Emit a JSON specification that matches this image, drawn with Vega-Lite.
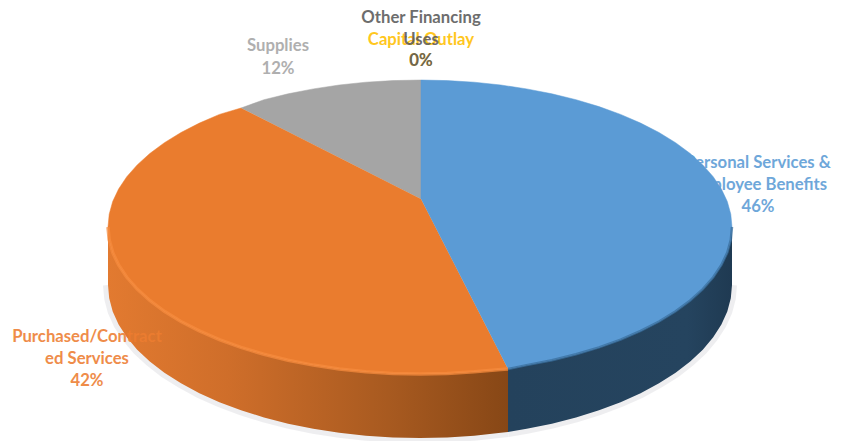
{"$schema":"https://vega.github.io/schema/vega-lite/v6.json","width":847,"height":441,"padding":0,"autosize":{"type":"none"},"background":"#ffffff","view":{"stroke":null},
"datasets":{
"blueTop":[{"i":0,"x":421,"y":199},{"i":1,"x":421,"y":80},{"i":2,"x":447.2,"y":80.6},{"i":3,"x":474.2,"y":82.2},{"i":4,"x":500.8,"y":85},{"i":5,"x":526.7,"y":88.9},{"i":6,"x":551.9,"y":93.8},{"i":7,"x":576,"y":99.7},{"i":8,"x":599,"y":106.6},{"i":9,"x":620.6,"y":114.4},{"i":10,"x":640.6,"y":123.1},{"i":11,"x":659,"y":132.5},{"i":12,"x":675.6,"y":142.7},{"i":13,"x":690.2,"y":153.5},{"i":14,"x":702.8,"y":164.9},{"i":15,"x":713.2,"y":176.7},{"i":16,"x":721.4,"y":189},{"i":17,"x":727.3,"y":201.5},{"i":18,"x":730.8,"y":214.2},{"i":19,"x":732,"y":227},{"i":20,"x":730.8,"y":239.8},{"i":21,"x":727.3,"y":252.5},{"i":22,"x":721.4,"y":265},{"i":23,"x":713.2,"y":277.3},{"i":24,"x":702.8,"y":289.1},{"i":25,"x":690.2,"y":300.5},{"i":26,"x":675.6,"y":311.3},{"i":27,"x":659,"y":321.5},{"i":28,"x":640.6,"y":330.9},{"i":29,"x":620.6,"y":339.6},{"i":30,"x":599,"y":347.4},{"i":31,"x":576,"y":354.3},{"i":32,"x":551.9,"y":360.2},{"i":33,"x":526.7,"y":365.1},{"i":34,"x":508,"y":369}],
"orangeTop":[{"i":0,"x":421,"y":199},{"i":1,"x":508,"y":369},{"i":2,"x":500.8,"y":369.5},{"i":3,"x":474.2,"y":371.8},{"i":4,"x":447.2,"y":373.4},{"i":5,"x":420,"y":374},{"i":6,"x":392.8,"y":373.4},{"i":7,"x":365.8,"y":371.8},{"i":8,"x":339.2,"y":369},{"i":9,"x":313.3,"y":365.1},{"i":10,"x":288.1,"y":360.2},{"i":11,"x":264,"y":354.3},{"i":12,"x":241,"y":347.4},{"i":13,"x":219.4,"y":339.6},{"i":14,"x":199.4,"y":330.9},{"i":15,"x":181,"y":321.5},{"i":16,"x":164.4,"y":311.3},{"i":17,"x":149.8,"y":300.5},{"i":18,"x":137.2,"y":289.1},{"i":19,"x":126.8,"y":277.3},{"i":20,"x":118.6,"y":265},{"i":21,"x":112.7,"y":252.5},{"i":22,"x":109.2,"y":239.8},{"i":23,"x":108,"y":227},{"i":24,"x":109.2,"y":214.2},{"i":25,"x":112.7,"y":201.5},{"i":26,"x":118.6,"y":189},{"i":27,"x":126.8,"y":176.7},{"i":28,"x":137.2,"y":164.9},{"i":29,"x":149.8,"y":153.5},{"i":30,"x":164.4,"y":142.7},{"i":31,"x":181,"y":132.5},{"i":32,"x":199.4,"y":123.1},{"i":33,"x":219.4,"y":114.4},{"i":34,"x":241,"y":108}],
"grayTop":[{"i":0,"x":421,"y":199},{"i":1,"x":241,"y":108},{"i":2,"x":264,"y":99.7},{"i":3,"x":288.1,"y":93.8},{"i":4,"x":313.3,"y":88.9},{"i":5,"x":339.2,"y":85},{"i":6,"x":365.8,"y":82.2},{"i":7,"x":392.8,"y":80.6},{"i":8,"x":421,"y":80}],
"orangeWall":[{"x":108,"y":227,"y2":285},{"x":109.2,"y":239.8,"y2":298.3},{"x":112.7,"y":252.5,"y2":311.6},{"x":118.6,"y":265,"y2":324.6},{"x":126.8,"y":277.3,"y2":337.3},{"x":137.2,"y":289.1,"y2":349.7},{"x":149.8,"y":300.5,"y2":361.5},{"x":164.4,"y":311.3,"y2":372.8},{"x":181,"y":321.5,"y2":383.3},{"x":199.4,"y":330.9,"y2":393.2},{"x":219.4,"y":339.6,"y2":402.2},{"x":241,"y":347.4,"y2":410.3},{"x":264,"y":354.3,"y2":417.5},{"x":288.1,"y":360.2,"y2":423.7},{"x":313.3,"y":365.1,"y2":428.8},{"x":339.2,"y":369,"y2":432.8},{"x":365.8,"y":371.8,"y2":435.7},{"x":392.8,"y":373.4,"y2":437.4},{"x":420,"y":374,"y2":438},{"x":447.2,"y":373.4,"y2":437.4},{"x":474.2,"y":371.8,"y2":435.7},{"x":500.8,"y":369.5,"y2":432.8},{"x":508,"y":369,"y2":432}],
"blueWall":[{"x":508,"y":369,"y2":432},{"x":526.7,"y":365.1,"y2":428.8},{"x":551.9,"y":360.2,"y2":423.7},{"x":576,"y":354.3,"y2":417.5},{"x":599,"y":347.4,"y2":410.3},{"x":620.6,"y":339.6,"y2":402.2},{"x":640.6,"y":330.9,"y2":393.2},{"x":659,"y":321.5,"y2":383.3},{"x":675.6,"y":311.3,"y2":372.8},{"x":690.2,"y":300.5,"y2":361.5},{"x":702.8,"y":289.1,"y2":349.7},{"x":713.2,"y":277.3,"y2":337.3},{"x":721.4,"y":265,"y2":324.6},{"x":727.3,"y":252.5,"y2":311.6},{"x":730.8,"y":239.8,"y2":298.3},{"x":732,"y":227,"y2":285}],
"labels":[
{"category":"Supplies","text":"Supplies","share":12,"x":278,"y":46},{"category":"Supplies","text":"12%","share":12,"x":278,"y":69},
{"category":"Capital Outlay","text":"Capital Outlay","share":0,"x":421,"y":40},{"category":"Capital Outlay","text":"0%","share":0,"x":421,"y":61},
{"category":"Other Financing Uses","text":"Other Financing","share":0,"x":421,"y":18},{"category":"Other Financing Uses","text":"Uses","share":0,"x":421,"y":40},{"category":"Other Financing Uses","text":"0%","share":0,"x":421,"y":61},
{"category":"Personal Services & Employee Benefits","text":"Personal Services &","share":46,"x":758,"y":163},{"category":"Personal Services & Employee Benefits","text":"Employee Benefits","share":46,"x":758,"y":185},{"category":"Personal Services & Employee Benefits","text":"46%","share":46,"x":758,"y":207},
{"category":"Purchased/Contracted Services","text":"Purchased/Contract","share":42,"x":87,"y":337},{"category":"Purchased/Contracted Services","text":"ed Services","share":42,"x":87,"y":359},{"category":"Purchased/Contracted Services","text":"42%","share":42,"x":87,"y":381}]
},
"encoding":{"x":{"field":"x","type":"quantitative","scale":{"domain":[0,847],"nice":false,"zero":false},"axis":null},"y":{"field":"y","type":"quantitative","scale":{"domain":[441,0],"nice":false,"zero":false},"axis":null}},
"layer":[
{"data":{"name":"orangeWall"},"mark":{"type":"line","stroke":"#d5d5da","strokeWidth":10,"opacity":0.4},"encoding":{"y":{"field":"y2","type":"quantitative"}}},
{"data":{"name":"blueWall"},"mark":{"type":"line","stroke":"#d5d5da","strokeWidth":10,"opacity":0.4},"encoding":{"y":{"field":"y2","type":"quantitative"}}},
{"data":{"name":"orangeWall"},"mark":{"type":"area","fill":{"gradient":"linear","x1":0,"y1":0,"x2":1,"y2":0,"stops":[{"offset":0,"color":"#e27a30"},{"offset":0.3,"color":"#cf6e2a"},{"offset":0.7,"color":"#a85a20"},{"offset":1,"color":"#874716"}]}},"encoding":{"y2":{"field":"y2"}}},
{"data":{"name":"blueWall"},"mark":{"type":"area","fill":{"gradient":"linear","x1":0,"y1":0,"x2":1,"y2":0,"stops":[{"offset":0,"color":"#24425c"},{"offset":0.8,"color":"#25445f"},{"offset":1,"color":"#1f3a52"}]}},"encoding":{"y2":{"field":"y2"}}},
{"data":{"name":"grayTop"},"mark":{"type":"line","fill":"#a5a5a5","stroke":"#a5a5a5","strokeWidth":0.5},"encoding":{"order":{"field":"i","type":"quantitative"}}},
{"data":{"name":"orangeTop"},"mark":{"type":"line","fill":"#ea7c2e","stroke":"#ea7c2e","strokeWidth":0.5},"encoding":{"order":{"field":"i","type":"quantitative"}}},
{"data":{"name":"blueTop"},"mark":{"type":"line","fill":"#5b9bd5","stroke":"#5b9bd5","strokeWidth":0.5},"encoding":{"order":{"field":"i","type":"quantitative"}}},
{"data":{"name":"orangeWall"},"mark":{"type":"line","stroke":"#f58b3e","strokeWidth":3.5,"opacity":0.75}},
{"data":{"name":"blueWall"},"mark":{"type":"line","stroke":"#3a6f9e","strokeWidth":2.5,"opacity":0.75}},
{"data":{"name":"labels"},"mark":{"type":"text","font":"Lato","fontWeight":"bold","fontSize":16.7,"align":"center","baseline":"middle","opacity":0.88},"encoding":{"text":{"field":"text","type":"nominal"},"color":{"field":"category","type":"nominal","legend":null,"scale":{"domain":["Personal Services & Employee Benefits","Purchased/Contracted Services","Supplies","Capital Outlay","Other Financing Uses"],"range":["#5b9bd5","#ed7d31","#a5a5a5","#ffc000","#595959"]}}}}
]}
